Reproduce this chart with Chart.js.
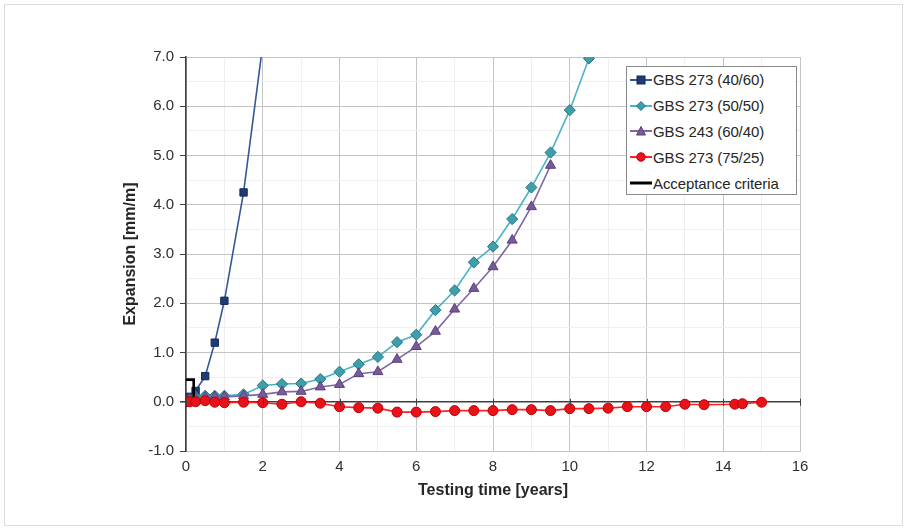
<!DOCTYPE html>
<html>
<head>
<meta charset="utf-8">
<title>Expansion vs testing time</title>
<script src="https://cdn.jsdelivr.net/npm/chart.js@4.4.1/dist/chart.umd.min.js"></script>
<style>
  html, body { margin: 0; padding: 0; background: #ffffff; }
  #wrap { position: relative; width: 907px; height: 531px; overflow: hidden;
          font-family: "Liberation Sans", Arial, sans-serif; }
  #frame { position: absolute; left: 4px; top: 4px; width: 897px; height: 520px;
           border: 1px solid #dcdcdc; }
  #c { position: absolute; left: 0; top: 0; }
  #legend { position: absolute; left: 626px; top: 66px; width: 171px; height: 129px;
            box-sizing: border-box; border: 1px solid #8a8a8a; background: #ffffff;
            padding-top: 0px; }
  .row { display: flex; align-items: center; height: 25.8px; padding-left: 3px;
         font-size: 15px; color: #262626; white-space: nowrap; letter-spacing: -0.1px; }
  .row svg { flex: 0 0 auto; margin-right: 1px; }
</style>
</head>
<body>
<div id="wrap">
  <div id="frame"></div>
  <canvas id="c" width="907" height="531"></canvas>
  <div id="legend"></div>
</div>
<script>
// ---- measured expansion data (testing time in years, expansion in mm/m) ----
const years4060 = [0, 0.1, 0.25, 0.5, 0.75, 1.0, 1.5, 2.0];
const exp4060   = [0, 0.1, 0.22, 0.52, 1.2, 2.05, 4.25, 7.25];

const years5050 = [0, 0.1, 0.25, 0.5, 0.75, 1.0, 1.5, 2.0, 2.5, 3.0, 3.5, 4.0, 4.5, 5.0, 5.5,
                   6.0, 6.5, 7.0, 7.5, 8.0, 8.5, 9.0, 9.5, 10.0, 10.5];
const exp5050   = [0, 0.05, 0.1, 0.12, 0.12, 0.12, 0.15, 0.33, 0.36, 0.37, 0.46, 0.61, 0.76, 0.91, 1.21,
                   1.36, 1.86, 2.26, 2.83, 3.15, 3.71, 4.35, 5.06, 5.92, 6.97];

const years6040 = [0, 0.1, 0.25, 0.5, 0.75, 1.0, 1.5, 2.0, 2.5, 3.0, 3.5, 4.0, 4.5, 5.0, 5.5,
                   6.0, 6.5, 7.0, 7.5, 8.0, 8.5, 9.0, 9.5];
const exp6040   = [0, 0.04, 0.07, 0.09, 0.1, 0.1, 0.12, 0.15, 0.2, 0.21, 0.3, 0.35, 0.57, 0.61, 0.86,
                   1.12, 1.43, 1.88, 2.3, 2.74, 3.28, 3.96, 4.8];

const years7525 = [0, 0.1, 0.25, 0.5, 0.75, 1.0, 1.5, 2.0, 2.5, 3.0, 3.5, 4.0, 4.5, 5.0, 5.5,
                   6.0, 6.5, 7.0, 7.5, 8.0, 8.5, 9.0, 9.5, 10.0, 10.5, 11.0, 11.5, 12.0, 12.5,
                   13.0, 13.5, 14.3, 14.5, 15.0];
const exp7525   = [0, 0.0, 0.0, 0.02, -0.01, -0.02, -0.01, -0.02, -0.05, 0.0, -0.03, -0.1, -0.12, -0.13, -0.21,
                   -0.21, -0.2, -0.18, -0.18, -0.18, -0.16, -0.16, -0.18, -0.14, -0.14, -0.13, -0.1, -0.1, -0.1,
                   -0.05, -0.06, -0.05, -0.04, -0.01];

const yearsLimit = [0, 0.2, 0.2];
const expLimit   = [0.45, 0.45, 0];

const seriesLabels = ['GBS 273 (40/60)', 'GBS 273 (50/50)', 'GBS 243 (60/40)',
                      'GBS 273 (75/25)', 'Acceptance criteria'];

const xTickValues = [0, 2, 4, 6, 8, 10, 12, 14, 16];
const yTickValues = [-1, 0, 1, 2, 3, 4, 5, 6, 7];

const pairs = (xs, ys) => xs.map((x, i) => ({ x: x, y: ys[i] }));

const datasets = [
  { label: seriesLabels[0], data: pairs(years4060, exp4060), order: 4,
    borderColor: '#34579a', backgroundColor: '#1f3b73', pointBorderColor: '#142a58',
    pointStyle: 'rect', pointRadius: 5.2, borderWidth: 1.6, pointBorderWidth: 1 },
  { label: seriesLabels[1], data: pairs(years5050, exp5050), order: 3,
    borderColor: '#4bb3c4', backgroundColor: '#3c9fab', pointBorderColor: '#2b7480',
    pointStyle: 'rectRot', pointRadius: 5.6, borderWidth: 1.6, pointBorderWidth: 1 },
  { label: seriesLabels[2], data: pairs(years6040, exp6040), order: 2,
    borderColor: '#8265a6', backgroundColor: '#775a9b', pointBorderColor: '#5a4178',
    pointStyle: 'triangle', pointRadius: 5.8, borderWidth: 1.6, pointBorderWidth: 1 },
  { label: seriesLabels[3], data: pairs(years7525, exp7525), order: 0,
    borderColor: '#ff2020', backgroundColor: '#e8121a', pointBorderColor: '#c00000',
    pointStyle: 'circle', pointRadius: 5, borderWidth: 1.6, pointBorderWidth: 1 },
  { label: seriesLabels[4], data: pairs(yearsLimit, expLimit), order: 1,
    borderColor: '#000000', backgroundColor: '#000000',
    pointRadius: 0, borderWidth: 2.6 }
];

const majorGrid = '#c4c4c4';
const minorGrid = '#efefef';
const axisDark = '#404040';

// cross tick marks on the zero line
const zeroLineTicks = {
  id: 'zeroLineTicks',
  afterDatasetsDraw(chart) {
    const { ctx, scales: { x, y } } = chart;
    const y0 = y.getPixelForValue(0);
    ctx.save();
    ctx.strokeStyle = axisDark;
    ctx.lineWidth = 1;
    xTickValues.forEach(v => {
      const px = Math.round(x.getPixelForValue(v)) + 0.5;
      ctx.beginPath();
      ctx.moveTo(px, y0 - 3);
      ctx.lineTo(px, y0 + 4);
      ctx.stroke();
    });
    ctx.restore();
  }
};

const chart = new Chart(document.getElementById('c'), {
  type: 'line',
  data: { datasets: datasets },
  plugins: [zeroLineTicks],
  options: {
    responsive: false,
    animation: false,
    devicePixelRatio: 1,
    layout: { padding: { left: 0, top: 57, right: 107, bottom: 0 } },
    plugins: { legend: { display: false }, tooltip: { enabled: false } },
    elements: { line: { tension: 0 } },
    scales: {
      x: {
        type: 'linear', min: 0, max: 16,
        afterFit: s => { s.height = 80; },
        ticks: {
          stepSize: 1, autoSkip: false, maxRotation: 0, padding: 7,
          color: '#2e2e2e', font: { family: '"Liberation Sans", Arial, sans-serif', size: 15 },
          callback: v => (xTickValues.includes(v) ? String(v) : '')
        },
        grid: {
          drawTicks: false,
          color: c => (c.tick && c.tick.value % 2 === 0 ? majorGrid : minorGrid),
          lineWidth: 1
        },
        border: { color: majorGrid, width: 1 },
        title: {
          display: true, text: 'Testing time [years]', color: '#262626',
          font: { family: '"Liberation Sans", Arial, sans-serif', size: 16, weight: 'bold' },
          padding: { top: 0, bottom: 31 }
        }
      },
      y: {
        type: 'linear', min: -1, max: 7,
        afterFit: s => { s.width = 186; },
        ticks: {
          stepSize: 0.5, autoSkip: false, padding: 6,
          color: '#2e2e2e', font: { family: '"Liberation Sans", Arial, sans-serif', size: 15 },
          callback: v => (yTickValues.includes(v) ? v.toFixed(1) : '')
        },
        grid: {
          tickLength: 6,
          color: c => {
            const v = c.tick ? c.tick.value : NaN;
            if (v === 0) return axisDark;
            return Number.isInteger(v) ? majorGrid : minorGrid;
          },
          lineWidth: c => (c.tick && c.tick.value === 0 ? 1.6 : 1),
          tickColor: c => (c.tick && Number.isInteger(c.tick.value) ? axisDark : 'rgba(0,0,0,0)')
        },
        border: { color: axisDark, width: 1.6 },
        title: {
          display: true, text: 'Expansion [mm/m]', color: '#262626',
          font: { family: '"Liberation Sans", Arial, sans-serif', size: 16, weight: 'bold' },
          padding: { top: 121, bottom: 0 }
        }
      }
    }
  }
});

// legend built from the dataset styles
function markerSvg(ds) {
  const c = ds.backgroundColor, b = ds.pointBorderColor || c;
  let m = '';
  if (ds.pointStyle === 'rect') m = `<rect x="7" y="2" width="8" height="8" fill="${c}" stroke="${b}"/>`;
  else if (ds.pointStyle === 'rectRot') m = `<polygon points="11,1.5 15.5,6 11,10.5 6.5,6" fill="${c}" stroke="${b}"/>`;
  else if (ds.pointStyle === 'triangle') m = `<polygon points="11,1.5 15.5,10 6.5,10" fill="${c}" stroke="${b}"/>`;
  else if (ds.pointStyle === 'circle') m = `<circle cx="11" cy="6" r="4.2" fill="${c}" stroke="${b}"/>`;
  const w = ds.pointRadius === 0 ? 3 : 2;
  return `<svg width="22" height="12" viewBox="0 0 22 12"><line x1="0" y1="6" x2="22" y2="6" stroke="${ds.borderColor}" stroke-width="${w}"/>${m}</svg>`;
}
const legendEl = document.getElementById('legend');
datasets.forEach(ds => {
  const row = document.createElement('div');
  row.className = 'row';
  row.innerHTML = markerSvg(ds);
  const span = document.createElement('span');
  span.textContent = ds.label;
  row.appendChild(span);
  legendEl.appendChild(row);
});
</script>
</body>
</html>
